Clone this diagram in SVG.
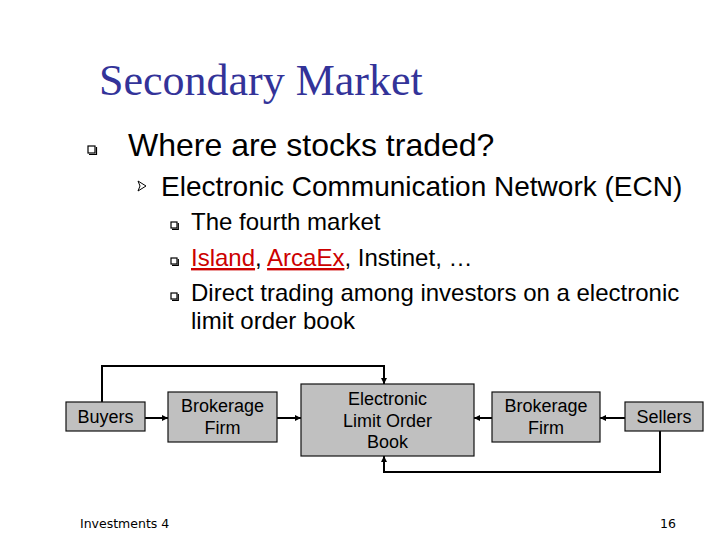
<svg xmlns="http://www.w3.org/2000/svg" width="720" height="540" viewBox="0 0 720 540">
<style>
.title{font-family:"Liberation Serif","Times New Roman",serif;font-size:44px;fill:#333399}
.t1{font-family:"Liberation Sans",Arial,sans-serif;font-size:32px;fill:#000}
.t2{font-family:"Liberation Sans",Arial,sans-serif;font-size:28px;fill:#000}
.t3{font-family:"Liberation Sans",Arial,sans-serif;font-size:24px;fill:#000}
.link{fill:#CC0000;text-decoration:underline}
.box{fill:#C0C0C0;stroke:#111;stroke-width:1.2}
.bt{font-family:"Liberation Sans",Arial,sans-serif;font-size:18px;fill:#000;text-anchor:middle}
.foot{font-family:"DejaVu Sans",Tahoma,sans-serif;font-size:12.5px;fill:#000}
.conn{fill:none;stroke:#000;stroke-width:2}
.bul{fill:#fff;stroke:#000;stroke-width:1.2}
.sh{fill:none;stroke:#000;stroke-width:1.2}
</style>
<defs>
<marker id="ah" viewBox="0 0 6 6" refX="6" refY="3" markerWidth="3" markerHeight="3" orient="auto" markerUnits="strokeWidth">
<path d="M0,0 L6,3 L0,6 z" fill="#000"/>
</marker>
</defs>
<rect width="720" height="540" fill="#fff"/>
<text class="title" x="99" y="95">Secondary Market</text>
<rect class="bul" x="88" y="146" width="7" height="7"/>
<path class="sh" d="M89,154.5 H96.5 V147"/>
<text class="t1" x="128" y="156">Where are stocks traded?</text>
<path d="M138,181 L146,186 L138,191 L140,186 z" fill="#fff" stroke="#000" stroke-width="1"/>
<text class="t2" x="161" y="196">Electronic Communication Network (ECN)</text>
<rect class="bul" x="171" y="222" width="6" height="6"/>
<path class="sh" d="M172,229.3 H178.3 V223"/>
<text class="t3" x="191" y="230">The fourth market</text>
<rect class="bul" x="171" y="258" width="6" height="6"/>
<path class="sh" d="M172,265.3 H178.3 V259"/>
<text class="t3" x="191" y="266"><tspan class="link">Island</tspan>, <tspan class="link">ArcaEx</tspan>, Instinet, …</text>
<rect class="bul" x="171" y="293" width="6" height="6"/>
<path class="sh" d="M172,300.3 H178.3 V294"/>
<text class="t3" x="191" y="301">Direct trading among investors on a electronic</text>
<text class="t3" x="191" y="329">limit order book</text>
<g id="connectors">
<polyline class="conn" points="145,418 168,418" marker-end="url(#ah)"/>
<polyline class="conn" points="277,418 301,418" marker-end="url(#ah)"/>
<polyline class="conn" points="492,418 474,418" marker-end="url(#ah)"/>
<polyline class="conn" points="625,418 600,418" marker-end="url(#ah)"/>
<polyline class="conn" points="102,402 102,366 384,366 384,384" marker-end="url(#ah)"/>
<polyline class="conn" points="660,431 660,472 384,472 384,456" marker-end="url(#ah)"/>
</g>
<g id="buyers">
<rect class="box" x="66" y="402" width="79" height="29"/>
<text class="bt" x="105.5" y="423">Buyers</text>
</g>
<g id="brokerage1">
<rect class="box" x="168" y="392" width="109" height="50"/>
<text class="bt" x="222.5" y="412">Brokerage</text>
<text class="bt" x="222.5" y="434">Firm</text>
</g>
<g id="elob">
<rect class="box" x="301" y="384" width="173" height="72"/>
<text class="bt" x="387.5" y="405">Electronic</text>
<text class="bt" x="387.5" y="427">Limit Order</text>
<text class="bt" x="387.5" y="448">Book</text>
</g>
<g id="brokerage2">
<rect class="box" x="492" y="392" width="108" height="50"/>
<text class="bt" x="546" y="412">Brokerage</text>
<text class="bt" x="546" y="434">Firm</text>
</g>
<g id="sellers">
<rect class="box" x="625" y="402" width="78" height="29"/>
<text class="bt" x="664" y="423">Sellers</text>
</g>
<text class="foot" x="80" y="528">Investments 4</text>
<text class="foot" x="660" y="528">16</text>
</svg>
